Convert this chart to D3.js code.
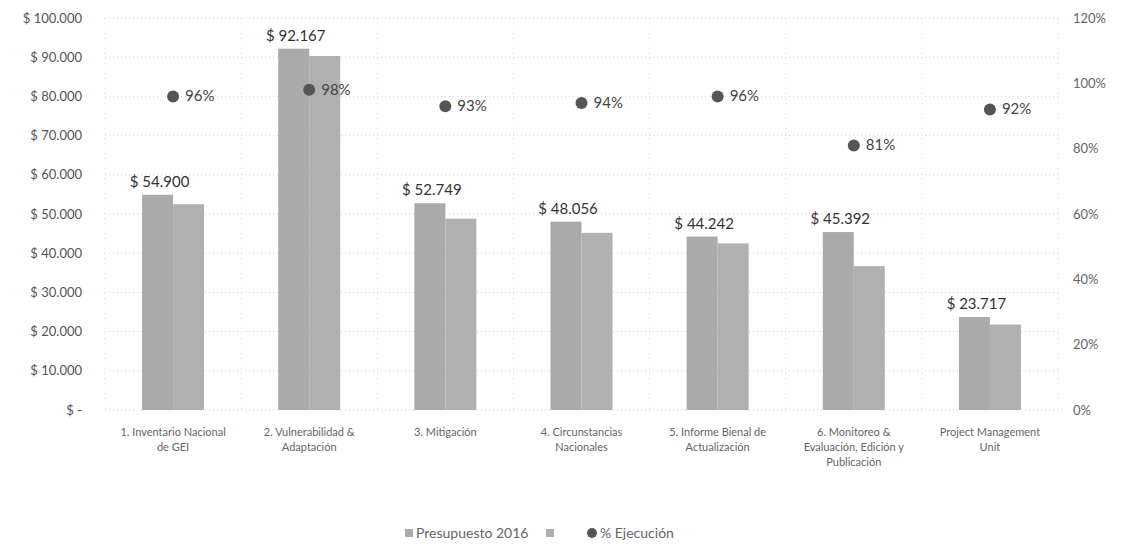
<!DOCTYPE html>
<html><head><meta charset="utf-8">
<script src="https://cdn.jsdelivr.net/npm/d3@7"></script>
<style>body{margin:0;background:#fff;} svg{display:block;font-family:Lato,"Open Sans",sans-serif;}</style>
</head><body><svg id="c" width="1126" height="552"></svg>
<script>
const categories = ["1. Inventario Nacional\nde GEI","2. Vulnerabilidad &\nAdaptación","3. Mitigación","4. Circunstancias\nNacionales","5. Informe Bienal de\nActualización","6. Monitoreo &\nEvaluación, Edición y\nPublicación","Project Management\nUnit"];
const presupuesto = [54900, 92167, 52749, 48056, 44242, 45392, 23717];
const ejecutado = [52500, 90300, 48800, 45200, 42500, 36700, 21800];
const pctEjecucion = [0.96, 0.98, 0.93, 0.94, 0.96, 0.81, 0.92];
const leftTicks = [0,10000,20000,30000,40000,50000,60000,70000,80000,90000,100000];
const rightTicks = [0,0.2,0.4,0.6,0.8,1.0,1.2];
const seriesNames = ["Presupuesto 2016", "", "% Ejecución"];

const svg = d3.select("#c");
const L = 105, R = 1058, T = 18, B = 410;
const x = d3.scaleBand().domain(d3.range(categories.length)).range([L, R]);
const y = d3.scaleLinear().domain([0, 100000]).range([B, T]);
const y2 = d3.scaleLinear().domain([0, 1.2]).range([B, T]);
const bw = 31;
const fmt = v => "$ " + d3.format(",")(v).replace(/,/g, ".");

// grid
const g = svg.append("g");
g.selectAll("line.h").data(leftTicks).join("line")
  .attr("x1", L).attr("x2", R).attr("y1", d => y(d)).attr("y2", d => y(d))
  .attr("stroke", "#d0d0d0").attr("stroke-dasharray", "1,3");
g.selectAll("line.v").data(d3.range(categories.length + 1)).join("line")
  .attr("x1", d => L + d * x.step()).attr("x2", d => L + d * x.step())
  .attr("y1", T).attr("y2", B)
  .attr("stroke", "#dddddd").attr("stroke-dasharray", "1,4");

// left axis
const ax = d3.axisLeft(y).tickValues(leftTicks).tickSize(0).tickPadding(0)
  .tickFormat(d => d === 0 ? "$ -" : fmt(d));
svg.append("g").attr("transform", "translate(82,0)").call(ax)
  .call(s => s.select(".domain").remove())
  .selectAll("text").attr("font-size", 13).attr("fill", "#555").attr("font-family", "Lato");
// right axis
const ax2 = d3.axisRight(y2).tickValues(rightTicks).tickSize(0).tickPadding(0)
  .tickFormat(d3.format(".0%"));
svg.append("g").attr("transform", "translate(1073,0)").call(ax2)
  .call(s => s.select(".domain").remove())
  .selectAll("text").attr("font-size", 13).attr("fill", "#666").attr("font-family", "Lato");

// bars
const c = x.bandwidth() / 2;
svg.append("g").selectAll("rect").data(presupuesto).join("rect")
  .attr("x", (d, i) => x(i) + c - bw).attr("width", bw)
  .attr("y", d => y(d)).attr("height", d => B - y(d)).attr("fill", "#aaaaaa");
svg.append("g").selectAll("rect").data(ejecutado).join("rect")
  .attr("x", (d, i) => x(i) + c).attr("width", bw)
  .attr("y", d => y(d)).attr("height", d => B - y(d)).attr("fill", "#b0b0b0");

// value labels
svg.append("g").selectAll("text").data(presupuesto).join("text")
  .attr("x", (d, i) => x(i) + c - bw / 2 + 2).attr("y", d => y(d) - 8)
  .attr("text-anchor", "middle").attr("font-size", 15).attr("fill", "#333")
  .text(d => fmt(d));

// dots
svg.append("g").selectAll("circle").data(pctEjecucion).join("circle")
  .attr("cx", (d, i) => x(i) + c).attr("cy", d => y2(d)).attr("r", 6).attr("fill", "#555");
svg.append("g").selectAll("text").data(pctEjecucion).join("text")
  .attr("x", (d, i) => x(i) + c + 12).attr("y", d => y2(d) + 5)
  .attr("font-size", 15).attr("fill", "#444").text(d => d3.format(".0%")(d));

// category labels
const cl = svg.append("g").selectAll("text").data(categories).join("text")
  .attr("text-anchor", "middle").attr("font-size", 11).attr("fill", "#666");
cl.each(function(d, i) {
  d3.select(this).selectAll("tspan").data(d.split("\n")).join("tspan")
    .attr("x", x(i) + c).attr("y", (t, j) => 436 + j * 15).text(t => t);
});

// legend
const lg = svg.append("g");
lg.append("rect").attr("x", 405).attr("y", 529).attr("width", 8).attr("height", 8).attr("fill", "#aaa");
lg.append("text").attr("x", 416).attr("y", 538).attr("font-size", 14).attr("fill", "#666").text(seriesNames[0]);
lg.append("rect").attr("x", 546).attr("y", 529).attr("width", 8).attr("height", 8).attr("fill", "#b0b0b0");
lg.append("text").attr("x", 557).attr("y", 538).attr("font-size", 14).attr("fill", "#666").text(seriesNames[1]);
lg.append("circle").attr("cx", 592).attr("cy", 533).attr("r", 5).attr("fill", "#555");
lg.append("text").attr("x", 600).attr("y", 538).attr("font-size", 14).attr("fill", "#666").text(seriesNames[2]);
</script></body></html>
